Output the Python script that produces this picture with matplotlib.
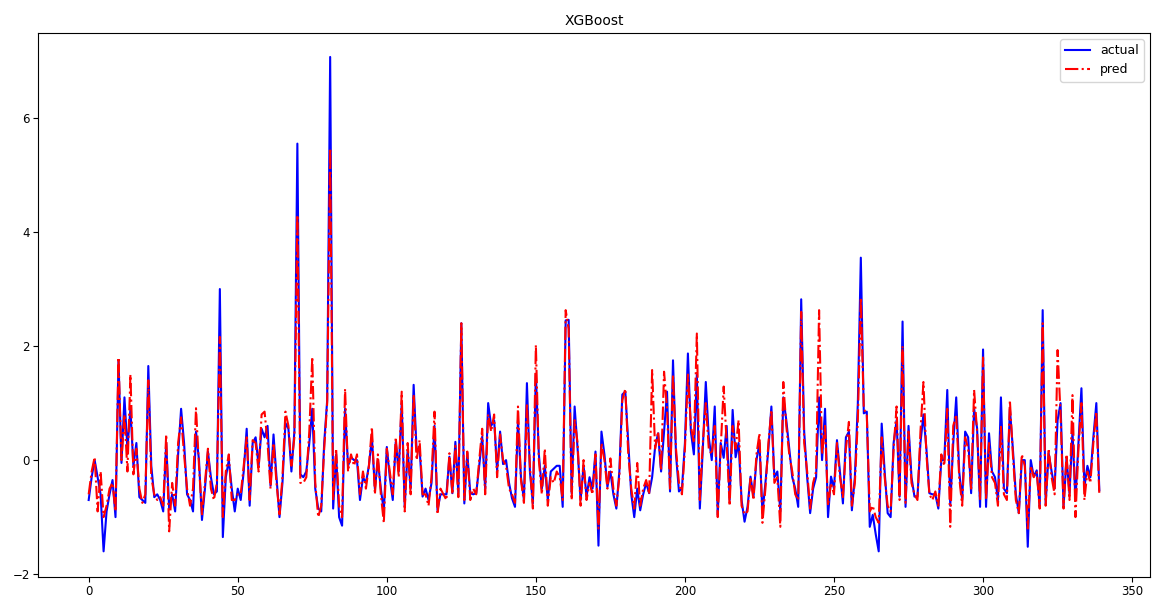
import matplotlib
matplotlib.use('Agg')
import matplotlib.pyplot as plt
import numpy as np

# values (one point per sample)
actual = [
    -0.7, -0.3, 0.0, -0.3, -0.6, -1.6, -0.9, -0.6, -0.35, -1.0,
    1.75, -0.05, 1.1, 0.2, 0.9, -0.1, 0.3, -0.65, -0.7, -0.75,
    1.65, -0.1, -0.65, -0.6, -0.7, -0.9, 0.3, -0.85, -0.6, -0.9,
    0.1, 0.9, 0.3, -0.6, -0.7, -0.9, 0.5, 0.0, -1.05, -0.5,
    0.15, -0.3, -0.6, -0.55, 3.0, -1.35, -0.3, 0.0, -0.5, -0.9,
    -0.5, -0.7, -0.2, 0.55, -0.8, 0.3, 0.4, -0.1, 0.55, 0.4,
    0.6, -0.45, 0.45, -0.3, -1.0, -0.4, 0.65, 0.55, -0.2, 0.5,
    5.55, -0.25, -0.3, -0.2, 0.3, 0.9, -0.5, -0.85, -0.9, 0.3,
    1.05, 7.07, -0.85, 0.1, -1.0, -1.15, 0.9, -0.1, 0.05, 0.0,
    0.0, -0.7, -0.3, -0.4, -0.1, 0.4, -0.5, 0.0, -0.5, -0.9,
    0.23, -0.3, -0.7, 0.32, -0.2, 1.0, -0.82, 0.18, -0.5, 1.32,
    0.17, 0.2, -0.64, -0.5, -0.7, -0.4, 0.6, -0.88, -0.6, -0.6,
    -0.6, 0.06, -0.58, 0.32, -0.58, 2.4, -0.76, 0.12, -0.58, -0.6,
    -0.58, -0.1, 0.41, -0.5, 1.0, 0.6, 0.7, -0.18, 0.5, -0.07,
    0.0, -0.4, -0.67, -0.82, 0.7, -0.3, -0.7, 1.35, -0.2, -0.76,
    1.5, 0.1, -0.5, -0.1, -0.7, -0.2, -0.15, -0.1, -0.1, -0.82,
    2.45, 2.46, -0.58, 0.94, 0.2, -0.7, -0.1, -0.64, -0.3, -0.5,
    0.15, -1.5, 0.5, 0.1, -0.47, -0.2, -0.6, -0.85, -0.2, 1.15,
    1.2, 0.3, -0.6, -1.0, -0.5, -0.88, -0.6, -0.4, -0.58, -0.3,
    0.23, 0.47, -0.2, 0.5, 1.2, -0.55, 1.75, 0.1, -0.55, -0.5,
    0.3, 1.87, 0.5, 0.1, 1.5, -0.85, 0.2, 1.37, 0.4, 0.0,
    0.94, -0.96, 0.3, 0.04, 0.6, -0.7, 0.88, 0.05, 0.3, -0.7,
    -1.08, -0.82, -0.29, -0.64, 0.0, 0.3, -0.93, -0.4, 0.2, 0.94,
    -0.3, -0.2, -0.9, 1.1, 0.7, 0.2, -0.3, -0.5, -0.82, 2.82,
    0.5, -0.3, -0.93, -0.5, -0.3, 1.1, 0.0, 0.9, -1.0, -0.29,
    -0.5, 0.35, -0.2, -0.76, 0.4, 0.5, -0.88, -0.3, 1.0, 3.55,
    0.82, 0.85, -1.17, -0.96, -1.3, -1.6, 0.64, -0.2, -0.93, -1.0,
    0.3, 0.7, -0.64, 2.43, -0.82, 0.6, -0.3, -0.64, -0.64, 0.3,
    0.8, 0.2, -0.58, -0.6, -0.6, -0.85, 0.0, 0.0, 1.23, -0.8,
    0.3, 1.1, -0.2, -0.7, 0.5, 0.4, -0.58, 0.9, 0.56, -0.82,
    1.94, -0.82, 0.47, -0.2, -0.3, -0.7, 1.1, -0.5, -0.58, 0.9,
    0.2, -0.6, -0.93, 0.0, 0.0, -1.52, 0.0, -0.29, -0.18, -0.82,
    2.63, -0.76, 0.12, -0.2, -0.5, 0.7, 1.0, -0.82, 0.03, -0.58,
    0.5, -0.7, 0.3, 1.26, -0.47, -0.1, -0.3, 0.4, 1.0, -0.53,
]

pred = [
    -0.6, -0.2, 0.05, -0.9, -0.2, -1.0, -0.8, -0.5, -0.4, -0.9,
    1.8, 0.0, 0.8, -0.2, 1.5, -0.25, 0.2, -0.5, -0.75, -0.6,
    1.4, -0.3, -0.6, -0.7, -0.65, -0.8, 0.45, -1.25, -0.4, -0.8,
    0.3, 0.75, 0.1, -0.5, -0.8, -0.5, 0.91, -0.1, -0.95, -0.4,
    0.2, -0.5, -0.7, -0.4, 2.16, -1.0, -0.2, 0.1, -0.7, -0.7,
    -0.6, -0.6, -0.1, 0.4, -0.7, 0.35, 0.3, -0.2, 0.8, 0.85,
    0.3, -0.5, 0.3, -0.4, -0.95, -0.3, 0.85, 0.6, -0.1, 0.4,
    4.3, -0.4, -0.4, -0.3, 0.5, 1.81, -0.4, -1.0, -0.8, 0.2,
    1.0, 5.47, -0.7, 0.2, -0.8, -1.0, 1.25, -0.2, 0.1, -0.1,
    0.1, -0.6, -0.2, -0.5, -0.1, 0.58, -0.6, 0.1, -0.6, -1.1,
    0.2, -0.2, -0.6, 0.4, -0.3, 1.2, -0.9, 0.3, -0.6, 1.15,
    0.0, 0.35, -0.6, -0.6, -0.8, -0.3, 0.85, -0.95, -0.5, -0.6,
    -0.7, 0.12, -0.6, 0.25, -0.65, 2.4, -0.7, 0.15, -0.7, -0.5,
    -0.6, 0.0, 0.55, -0.6, 0.8, 0.5, 0.8, -0.3, 0.45, 0.0,
    -0.1, -0.5, -0.6, -0.75, 0.94, -0.35, -0.75, 1.0, -0.1, -0.85,
    2.02, 0.0, -0.6, 0.2, -0.8, -0.3, -0.4, -0.2, -0.3, -0.7,
    2.63, 2.3, -0.7, 0.7, 0.3, -0.8, 0.0, -0.7, -0.4, -0.6,
    0.1, -1.2, 0.3, 0.0, -0.5, 0.03, -0.5, -0.8, -0.3, 1.05,
    1.25, 0.1, -0.5, -0.85, -0.05, -0.8, -0.5, -0.35, -0.6, 1.58,
    0.2, 0.5, -0.18, 1.55, 0.9, -0.5, 1.5, 0.2, -0.4, -0.6,
    0.2, 1.5, 0.6, 0.3, 2.22, -0.7, 0.3, 1.0, 0.2, 0.1,
    0.6, -1.0, 0.2, 1.29, 0.3, -0.8, 0.6, 0.2, 0.7, -0.8,
    -0.95, -0.9, -0.3, -0.7, 0.1, 0.47, -1.1, -0.5, 0.3, 0.88,
    -0.4, -0.3, -1.17, 1.37, 0.6, 0.1, -0.2, -0.6, -0.7, 2.6,
    0.3, -0.2, -0.85, -0.4, -0.2, 2.63, 0.1, 0.6, -0.8, -0.4,
    -0.6, 0.3, -0.3, -0.65, 0.2, 0.67, -0.8, -0.4, 0.7, 2.85,
    0.9, 0.8, -0.9, -0.8, -1.0, -1.1, 0.4, -0.3, -0.8, -0.9,
    0.2, 0.94, -0.7, 2.0, -0.75, 0.5, -0.4, -0.6, -0.7, 0.5,
    1.37, 0.1, -0.6, -0.7, -0.55, -0.8, 0.1, -0.1, 0.9, -1.17,
    0.6, 0.8, -0.3, -0.8, 0.4, 0.2, -0.5, 1.23, 0.5, -0.7,
    1.8, -0.7, 0.3, -0.3, -0.4, -0.8, 0.6, -0.6, -0.7, 1.05,
    0.1, -0.7, -0.93, 0.1, -0.1, -1.2, -0.1, -0.3, -0.2, -0.85,
    2.4, -0.8, 0.2, -0.3, -0.6, 1.93, 0.8, -0.85, 0.1, -0.7,
    1.14, -1.0, 0.2, 1.0, -0.7, -0.2, -0.4, 0.3, 0.85, -0.6,
]

x = np.arange(len(actual))

fig = plt.figure(figsize=(11.57, 6.01), dpi=100)
ax = fig.add_axes([38 / 1157, 24 / 601, 1112 / 1157, 544 / 601])
ax.plot(x, actual, color='blue', linewidth=1.5, label='actual')
ax.plot(x, pred, color='red', linestyle='-.', linewidth=1.5, label='pred')
ax.set_title('XGBoost', fontsize=10)
ax.set_xlim(-17, 356)
ax.set_ylim(-2.05, 7.49)
ax.set_xticks(np.arange(0, 351, 50))
ax.set_yticks([-2, 0, 2, 4, 6])
ax.tick_params(labelsize=8.5, pad=2.5)
ax.legend(loc='upper right', fontsize=9)
fig.savefig('out.png', dpi=100)
